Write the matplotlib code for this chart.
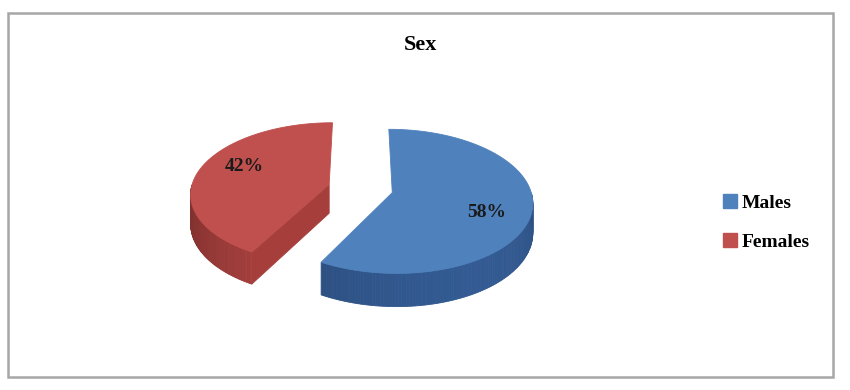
import numpy as np
import matplotlib
matplotlib.use('Agg')
import matplotlib.pyplot as plt
from matplotlib.patches import Polygon, Rectangle, Patch

# data
categories = ['Males', 'Females']
values = [58, 42]
top_colors = ['#4F81BD', '#C0504D']
side_colors = ['#2E5285', '#A63F3C']
title = 'Sex'

plt.rcParams['font.family'] = ['Liberation Serif', 'DejaVu Serif']

# pseudo 3D geometry (pixel space)
cx, cy = 360.5, 188.5
rx, ry = 138.0, 70.0
p = 0.12          # perspective
h = 29.0          # thickness
explode = 0.236


def proj(u, v, z=0.0):
    w = 1 + p * v
    return cx + rx * u / w, cy - ry * v / w + z * h / w


fig = plt.figure(figsize=(8.5, 3.9), dpi=100)
ax = fig.add_axes([0, 0, 1, 1])
ax.set_xlim(0, 850)
ax.set_ylim(390, 0)
ax.axis('off')

ax.add_patch(Rectangle((8, 13), 825, 364, fill=False, edgecolor='#A6A6A6', lw=1.8))

# slices go clockwise from 12 o'clock
total = float(sum(values))
start = 90.0
for i, val in enumerate(values):
    sweep = 360.0 * val / total
    a1 = start
    a0 = start - sweep
    start = a0
    mid = np.radians((a0 + a1) / 2)
    eu, ev = explode * np.cos(mid), explode * np.sin(mid)
    t = np.radians(np.linspace(a0, a1, 200))
    au, av = eu + np.cos(t), ev + np.sin(t)

    # outer wall (front half only)
    front = np.sin(t) < 0
    if front.any():
        idx = np.where(front)[0]
        tu, tv = au[idx], av[idx]
        for k in range(len(idx) - 1):
            x0, y0 = proj(tu[k], tv[k])
            x1, y1 = proj(tu[k + 1], tv[k + 1])
            x2, y2 = proj(tu[k + 1], tv[k + 1], 1)
            x3, y3 = proj(tu[k], tv[k], 1)
            shade = 0.85 + 0.25 * np.cos(t[idx[k]] + np.radians(60))
            c = np.clip(np.array(matplotlib.colors.to_rgb(side_colors[i])) * shade, 0, 1)
            ax.add_patch(Polygon([(x0, y0), (x1, y1), (x2, y2), (x3, y3)],
                                 closed=True, facecolor=c, edgecolor=c, lw=0.6))

    # cut faces
    for ang, nrm in ((a0, a0 - 90), (a1, a1 + 90)):
        if np.sin(np.radians(nrm)) < -0.05:
            ru, rv = eu + np.cos(np.radians(ang)), ev + np.sin(np.radians(ang))
            pts = [proj(eu, ev), proj(ru, rv), proj(ru, rv, 1), proj(eu, ev, 1)]
            ax.add_patch(Polygon(pts, closed=True, facecolor=side_colors[i],
                                 edgecolor=side_colors[i], lw=0.6))

    # top face
    top = [proj(eu, ev)] + [proj(u, v) for u, v in zip(au, av)]
    ax.add_patch(Polygon(top, closed=True, facecolor=top_colors[i],
                         edgecolor=top_colors[i], lw=0.6))

    # percentage label
    la = mid - np.radians(8)
    lr = 0.7
    lx, ly = proj(eu + lr * np.cos(la), ev + lr * np.sin(la))
    ax.text(lx, ly, f'{val}%', ha='center', va='center', fontsize=14,
            fontweight='bold', color='#1a1a1a')

ax.text(421, 45, title, ha='center', va='center', fontsize=16, fontweight='bold')

handles = [Patch(facecolor=c, edgecolor=c) for c in top_colors]
ax.legend(handles, categories, loc='center left', bbox_to_anchor=(0.83, 0.43),
          frameon=False, prop={'size': 14, 'weight': 'bold'},
          handlelength=0.7, handleheight=0.7, handletextpad=0.25, labelspacing=1.1)

fig.savefig('out.png', dpi=100)
